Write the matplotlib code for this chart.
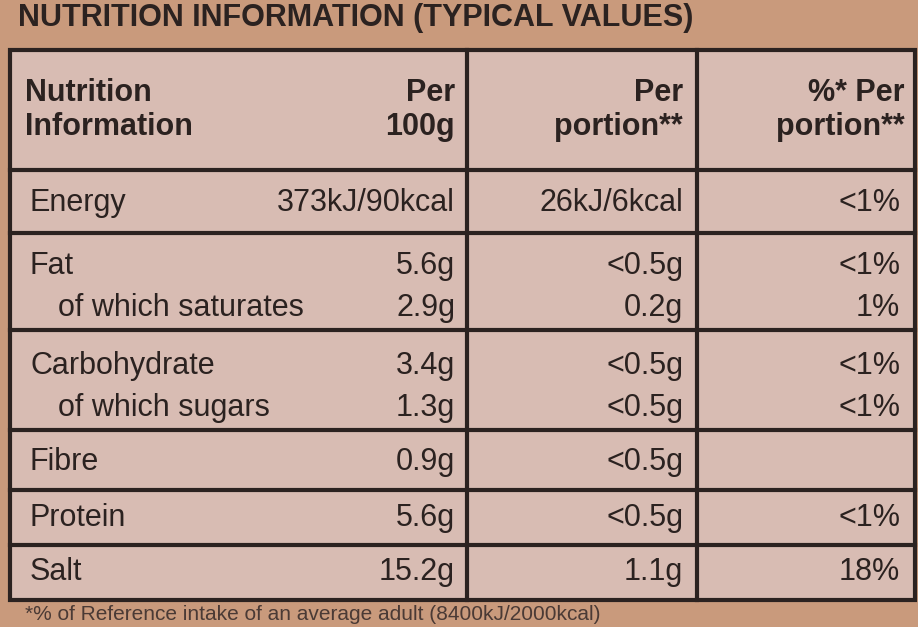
import matplotlib.pyplot as plt
from matplotlib.patches import Rectangle

plt.rcParams['font.family'] = ['Liberation Sans Narrow', 'Liberation Sans', 'DejaVu Sans']

title = "NUTRITION INFORMATION (TYPICAL VALUES)"
footnote = "*% of Reference intake of an average adult (8400kJ/2000kcal)"
headers = ["Nutrition\nInformation", "Per\n100g", "Per\nportion**", "%* Per\nportion**"]
nutrients = ["Energy", "Fat", "of which saturates", "Carbohydrate", "of which sugars",
             "Fibre", "Protein", "Salt"]
per_100g = ["373kJ/90kcal", "5.6g", "2.9g", "3.4g", "1.3g", "0.9g", "5.6g", "15.2g"]
per_portion = ["26kJ/6kcal", "<0.5g", "0.2g", "<0.5g", "<0.5g", "<0.5g", "<0.5g", "1.1g"]
pct_portion = ["<1%", "<1%", "1%", "<1%", "<1%", "", "<1%", "18%"]

# layout in pixels
W, H = 918, 627
col_x = [10, 467, 697, 915]
row_groups = [(50, 170), (170, 233), (233, 330), (330, 430), (430, 490), (490, 545), (545, 600)]
text_y = [203, 266, 308, 366, 408, 462, 518, 572]
indent = [0, 0, 1, 0, 1, 0, 0, 0]

fig = plt.figure(figsize=(W / 100, H / 100), dpi=100)
ax = fig.add_axes([0, 0, 1, 1])
ax.set_xlim(0, W)
ax.set_ylim(H, 0)
ax.axis('off')
fig.patch.set_facecolor('#c99a7c')

ink = '#2b2220'
ax.add_patch(Rectangle((col_x[0], row_groups[0][0]), col_x[-1] - col_x[0],
                       row_groups[-1][1] - row_groups[0][0], facecolor='#d8bcb3',
                       edgecolor=ink, lw=3))
for x in col_x[1:-1]:
    ax.plot([x, x], [row_groups[0][0], row_groups[-1][1]], color=ink, lw=3)
for top, bottom in row_groups[1:]:
    ax.plot([col_x[0], col_x[-1]], [top, top], color=ink, lw=3)

ax.text(18, 18, title, fontsize=22, fontweight='bold', color=ink, va='center')
ax.text(25, 614, footnote, fontsize=15, color='#4a3a35', va='center')

fs = 22
ax.text(25, 110, headers[0], fontsize=fs, fontweight='bold', color=ink, va='center',
        linespacing=1.15)
for i, x in enumerate([455, 683, 905]):
    ax.text(x, 110, headers[i + 1], fontsize=fs, fontweight='bold', color=ink,
            va='center', ha='right', linespacing=1.15)

for i, name in enumerate(nutrients):
    y = text_y[i]
    ax.text(30 + 28 * indent[i], y, name, fontsize=fs, color=ink, va='center')
    ax.text(455, y, per_100g[i], fontsize=fs, color=ink, va='center', ha='right')
    ax.text(683, y, per_portion[i], fontsize=fs, color=ink, va='center', ha='right')
    ax.text(900, y, pct_portion[i], fontsize=fs, color=ink, va='center', ha='right')

fig.savefig('out.png', dpi=100, facecolor=fig.get_facecolor())
